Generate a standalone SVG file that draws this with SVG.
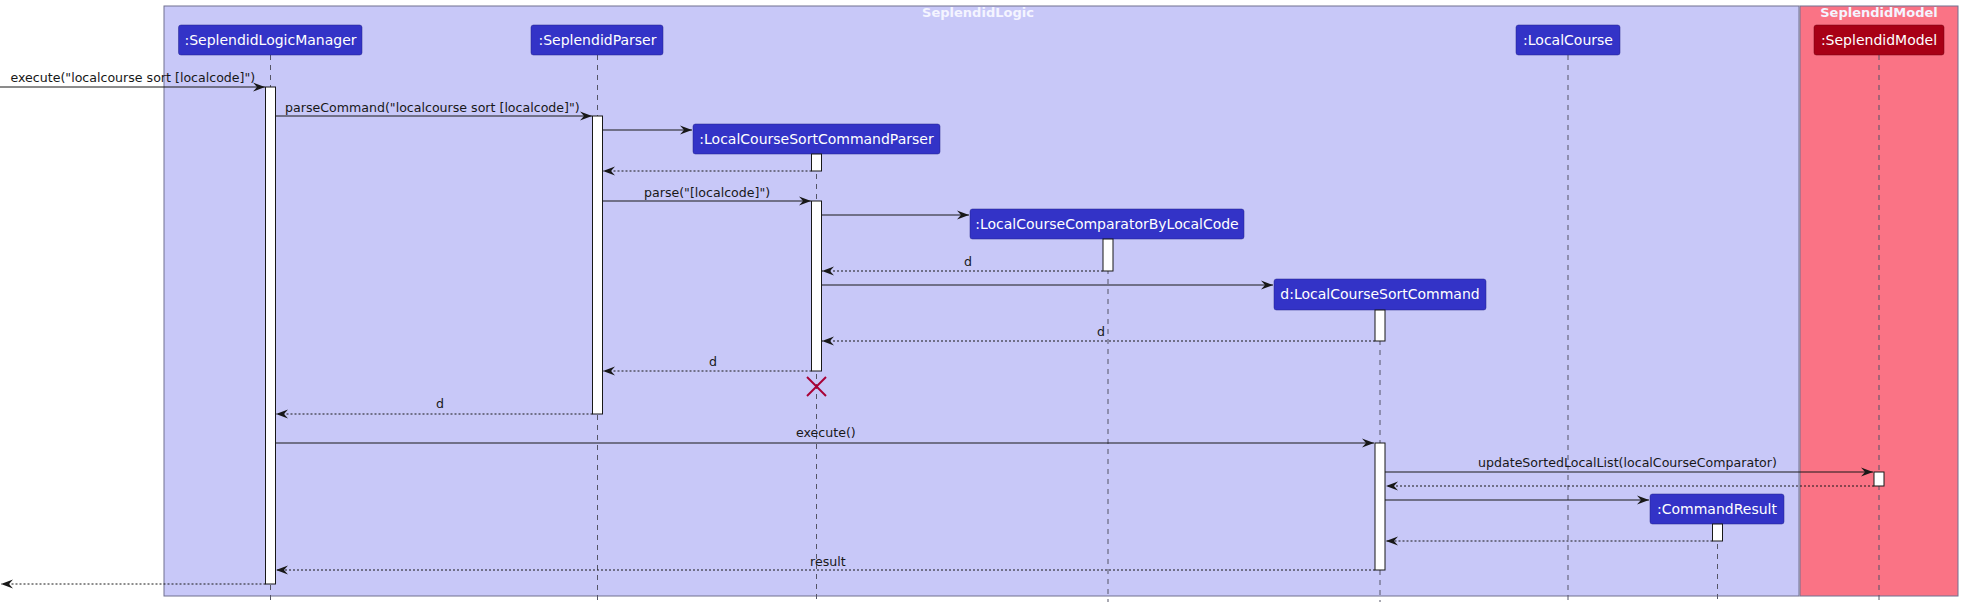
<svg xmlns="http://www.w3.org/2000/svg" width="1963" height="608" viewBox="0 0 1963 608">
<style>
.frame{stroke:#707090;stroke-width:1}
.ftitle{font-family:"DejaVu Sans",sans-serif;font-size:13px;font-weight:bold;fill:#F4F4FF;text-anchor:middle}
.part{fill:#3333C7;stroke:#22228a;stroke-width:0.5}
.ptext{font-family:"DejaVu Sans",sans-serif;font-size:14px;fill:#FFFFFF;text-anchor:middle}
.life{stroke:#555566;stroke-width:1;stroke-dasharray:5,5;fill:none}
.act{fill:#FFFFFF;stroke:#181818;stroke-width:1}
.msg{stroke:#181818;stroke-width:1;fill:none}
.ret{stroke:#181818;stroke-width:1;fill:none;stroke-dasharray:2,2}
.lbl{font-family:"DejaVu Sans",sans-serif;font-size:12.6px;fill:#181818}
</style>
<defs>
<marker id="ah" markerWidth="12" markerHeight="10" refX="12" refY="5" orient="auto" markerUnits="userSpaceOnUse">
<polygon points="0,0.5 12,5 0,9.5 4,5" fill="#181818"/>
</marker>
</defs>
<rect width="1963" height="608" fill="#FFFFFF"/>
<g id="box-logic">
<rect class="frame" x="164" y="6" width="1635" height="590" fill="#C8C8F8"/>
<text class="ftitle" x="978" y="17">SeplendidLogic</text>
</g>
<g id="box-model">
<rect class="frame" x="1800" y="6" width="158" height="590" fill="#FA7385"/>
<text class="ftitle" x="1879" y="17">SeplendidModel</text>
</g>
<g id="lifelines">
<line class="life" x1="270.5" y1="55" x2="270.5" y2="602"/>
<line class="life" x1="597.5" y1="55" x2="597.5" y2="602"/>
<line class="life" x1="816.5" y1="154" x2="816.5" y2="602"/>
<line class="life" x1="1108" y1="239" x2="1108" y2="602"/>
<line class="life" x1="1380" y1="310" x2="1380" y2="602"/>
<line class="life" x1="1568" y1="55" x2="1568" y2="602"/>
<line class="life" x1="1717.5" y1="524" x2="1717.5" y2="602"/>
<line class="life" x1="1879" y1="55" x2="1879" y2="602"/>
</g>
<g id="p-manager"><rect class="part" x="178.5" y="25" width="183.5" height="30" rx="2.5"/><text class="ptext" x="270.5" y="45">:SeplendidLogicManager</text></g>
<g id="p-parser"><rect class="part" x="531" y="25" width="132" height="30" rx="2.5"/><text class="ptext" x="597.5" y="45">:SeplendidParser</text></g>
<g id="p-lcscp"><rect class="part" x="693" y="124" width="247" height="30" rx="2.5"/><text class="ptext" x="816.5" y="144">:LocalCourseSortCommandParser</text></g>
<g id="p-lccblc"><rect class="part" x="970" y="209" width="274" height="30" rx="2.5"/><text class="ptext" x="1107" y="229">:LocalCourseComparatorByLocalCode</text></g>
<g id="p-lcsc"><rect class="part" x="1274" y="279" width="212" height="31" rx="2.5"/><text class="ptext" x="1380" y="299">d:LocalCourseSortCommand</text></g>
<g id="p-localcourse"><rect class="part" x="1516" y="25" width="104" height="30" rx="2.5"/><text class="ptext" x="1568" y="45">:LocalCourse</text></g>
<g id="p-commandresult"><rect class="part" x="1650" y="494" width="134" height="30" rx="2.5"/><text class="ptext" x="1717" y="514">:CommandResult</text></g>
<g id="p-model"><rect x="1814" y="25" width="130" height="30" rx="2.5" fill="#A80016" stroke="#700010" stroke-width="0.5"/><text class="ptext" x="1879" y="45">:SeplendidModel</text></g>
<g id="activations">
<rect class="act" x="265.5" y="87" width="10" height="497"/>
<rect class="act" x="592.5" y="116" width="10" height="298"/>
<rect class="act" x="811.5" y="154" width="10" height="17"/>
<rect class="act" x="811.5" y="201" width="10" height="170"/>
<rect class="act" x="1103" y="239" width="10" height="32"/>
<rect class="act" x="1375" y="310" width="10" height="31"/>
<rect class="act" x="1375" y="443" width="10" height="127"/>
<rect class="act" x="1874" y="472" width="10" height="14"/>
<rect class="act" x="1712.5" y="524" width="10" height="17"/>
</g>
<g id="connectors">
<line class="msg" x1="0" y1="87" x2="265" y2="87" marker-end="url(#ah)"/>
<text class="lbl" x="10.5" y="82">execute("localcourse sort [localcode]")</text>
<line class="msg" x1="275.5" y1="116" x2="592" y2="116" marker-end="url(#ah)"/>
<text class="lbl" x="285" y="112">parseCommand("localcourse sort [localcode]")</text>
<line class="msg" x1="602.5" y1="130" x2="692" y2="130" marker-end="url(#ah)"/>
<line class="ret" x1="811.5" y1="171" x2="603" y2="171" marker-end="url(#ah)"/>
<line class="msg" x1="602.5" y1="201" x2="811" y2="201" marker-end="url(#ah)"/>
<text class="lbl" x="644" y="197">parse("[localcode]")</text>
<line class="msg" x1="821.5" y1="215" x2="969" y2="215" marker-end="url(#ah)"/>
<line class="ret" x1="1103" y1="271" x2="822" y2="271" marker-end="url(#ah)"/>
<text class="lbl" x="964" y="266">d</text>
<line class="msg" x1="821.5" y1="285" x2="1273" y2="285" marker-end="url(#ah)"/>
<line class="ret" x1="1375" y1="341" x2="822" y2="341" marker-end="url(#ah)"/>
<text class="lbl" x="1097" y="336">d</text>
<line class="ret" x1="811.5" y1="371" x2="603" y2="371" marker-end="url(#ah)"/>
<text class="lbl" x="709" y="366">d</text>
<g id="destroy" stroke="#A80036" stroke-width="2"><line x1="807" y1="377" x2="826" y2="396"/><line x1="826" y1="377" x2="807" y2="396"/></g>
<line class="ret" x1="592.5" y1="414" x2="276" y2="414" marker-end="url(#ah)"/>
<text class="lbl" x="436" y="408">d</text>
<line class="msg" x1="275.5" y1="443" x2="1374" y2="443" marker-end="url(#ah)"/>
<text class="lbl" x="796" y="437">execute()</text>
<line class="msg" x1="1385" y1="472" x2="1873" y2="472" marker-end="url(#ah)"/>
<text class="lbl" x="1478" y="467">updateSortedLocalList(localCourseComparator)</text>
<line class="ret" x1="1874" y1="486" x2="1386" y2="486" marker-end="url(#ah)"/>
<line class="msg" x1="1385" y1="500" x2="1649" y2="500" marker-end="url(#ah)"/>
<line class="ret" x1="1712.5" y1="541" x2="1386" y2="541" marker-end="url(#ah)"/>
<line class="ret" x1="1375" y1="570" x2="276" y2="570" marker-end="url(#ah)"/>
<text class="lbl" x="810" y="566">result</text>
<line class="ret" x1="265.5" y1="584" x2="1" y2="584" marker-end="url(#ah)"/>
</g>
</svg>
